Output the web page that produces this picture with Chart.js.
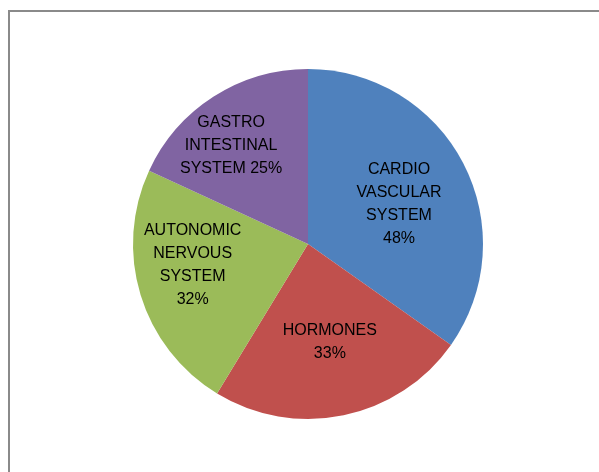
<!DOCTYPE html>
<html>
<head>
<meta charset="utf-8">
<script src="https://cdn.jsdelivr.net/npm/chart.js@4.4.0/dist/chart.umd.min.js"></script>
<style>
  html, body { margin: 0; padding: 0; background: #ffffff; }
  #wrap { position: relative; width: 599px; height: 472px; }
</style>
</head>
<body>
<div id="wrap"><canvas id="pieChart"></canvas></div>
<script>
// Dados do gráfico
const categories = ['CARDIO VASCULAR SYSTEM', 'HORMONES', 'AUTONOMIC NERVOUS SYSTEM', 'GASTRO INTESTINAL SYSTEM'];
const values = [48, 33, 32, 25];
const labelLines = [
    ['CARDIO', 'VASCULAR', 'SYSTEM', '48%'],
    ['HORMONES', '33%'],
    ['AUTONOMIC', 'NERVOUS', 'SYSTEM', '32%'],
    ['GASTRO', 'INTESTINAL', 'SYSTEM 25%']
];
const sliceColors = ['#4F81BD', '#C0504D', '#9BBB59', '#8064A2'];

// posição dos rótulos: fração do raio e desvio de ângulo (graus)
const labelRadius = [0.567, 0.575, 0.67, 0.712];
const labelAngleShift = [3.9, -0.8, 6.6, -5.5];

// Moldura cinza ao redor
const framePlugin = {
    id: 'frame',
    beforeDraw(chart) {
        const ctx = chart.ctx;
        ctx.save();
        ctx.fillStyle = '#ffffff';
        ctx.fillRect(0, 0, chart.width, chart.height);
        ctx.strokeStyle = '#8a8a8a';
        ctx.lineWidth = 2;
        ctx.strokeRect(9, 11, 700, 600);
        ctx.restore();
    }
};

// Rótulos dentro das fatias
const sliceLabels = {
    id: 'sliceLabels',
    afterDatasetsDraw(chart) {
        const ctx = chart.ctx;
        const meta = chart.getDatasetMeta(0);
        ctx.save();
        ctx.font = '16px "Liberation Sans", Arial, sans-serif';
        ctx.fillStyle = '#000000';
        ctx.textAlign = 'center';
        ctx.textBaseline = 'middle';
        meta.data.forEach((arc, i) => {
            const p = arc.getProps(['x', 'y', 'startAngle', 'endAngle', 'outerRadius'], true);
            const mid = (p.startAngle + p.endAngle) / 2 + labelAngleShift[i] * Math.PI / 180;
            const r = p.outerRadius * labelRadius[i];
            const cx = p.x + Math.cos(mid) * r;
            const cy = p.y + Math.sin(mid) * r;
            const lines = labelLines[i];
            const lh = 23;
            lines.forEach((t, k) => {
                ctx.fillText(t, cx, cy + (k - (lines.length - 1) / 2) * lh);
            });
        });
        ctx.restore();
    }
};

function setupChart() {
    const ctx = document.getElementById('pieChart').getContext('2d');
    new Chart(ctx, {
        type: 'pie',
        data: {
            labels: categories,
            datasets: [{
                data: values,
                backgroundColor: sliceColors,
                borderWidth: 0
            }]
        },
        options: {
            responsive: true,
            maintainAspectRatio: false,
            animation: false,
            layout: {
                padding: { left: 133, right: 116, top: 69, bottom: 53 }
            },
            plugins: {
                legend: { display: false },
                tooltip: { enabled: false }
            }
        },
        plugins: [framePlugin, sliceLabels]
    });
}

document.addEventListener('DOMContentLoaded', setupChart);
</script>
</body>
</html>
